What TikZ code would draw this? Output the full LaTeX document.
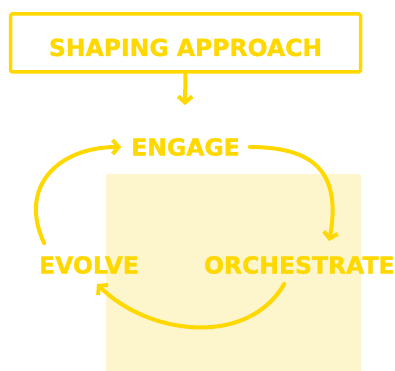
\documentclass[tikz,border=0pt]{standalone}
\usepackage{fontspec}
\setmainfont{DejaVu Sans}
\newfontfamily\heavyfont{DejaVu Sans Bold}[FakeBold=1.2]
\usetikzlibrary{arrows.meta}
\definecolor{gold}{RGB}{255,216,0}
\definecolor{paleyellow}{RGB}{253,245,204}
\begin{document}
\begin{tikzpicture}[
        x=1pt, y=1pt,
        stage/.style={text=gold, font=\heavyfont\fontsize{23.5}{26}\selectfont, inner sep=0pt, outer sep=10pt},
        frame/.style={draw=gold, line width=3.5pt, rounded corners=1.5pt, minimum width=350pt, minimum height=58pt,
                      text=gold, font=\heavyfont\fontsize{23.5}{26}\selectfont, text height=26pt, text depth=0pt},
        cyc/.style={draw=gold, line width=4pt, line cap=round, -{Straight Barb[length=6pt,width=14pt,line width=4pt]}}
    ]
        \useasboundingbox (0,0) rectangle (395,370);
        % background panel
        \fill[paleyellow, rounded corners=2pt] (106,-5) rectangle (361,196);

        % heading box
        \node[frame] at (185.5,327) (shape) {SHAPING APPROACH};

        % cycle stages
        \node[stage] at (185.5,223) (engage) {ENGAGE};
        \node[stage] at (89,105) (evolve) {EVOLVE};
        \node[stage, anchor=west] at (194,105) (orch) {ORCHESTRATE};
        \coordinate (entry) at (185,265);

        % arrows
        \draw[cyc] (shape.south) -- (entry);
        \draw[cyc] ([xshift=15pt,yshift=3pt]evolve.north west) to[out=115, in=180, looseness=1.3] (engage.west);
        \draw[cyc] (engage.east) to[out=0, in=80, looseness=1.4] ([xshift=30pt,yshift=5pt]orch.north);
        \draw[cyc] ([xshift=-15pt]orch.south) to[out=-120, in=-45, looseness=1] ([xshift=8pt]evolve.south);
    \end{tikzpicture}
\end{document}
